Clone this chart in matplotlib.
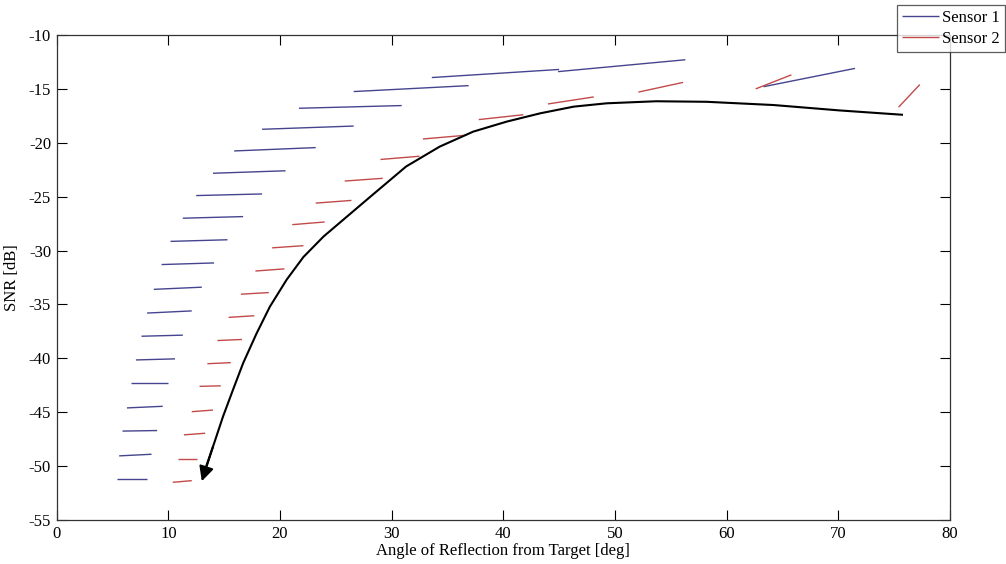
import matplotlib
matplotlib.use("Agg")
import matplotlib.pyplot as plt

plt.rcParams['font.family'] = ['Liberation Serif', 'DejaVu Serif']
plt.rcParams['axes.unicode_minus'] = False

# Sensor 1 segments: start/end angle and SNR
s1_x0 = [5.4, 5.6, 5.9, 6.3, 6.7, 7.1, 7.6, 8.1, 8.7, 9.4, 10.2, 11.3, 12.5, 14.0, 15.9, 18.4, 21.7, 26.6, 33.6, 44.9, 63.3]
s1_x1 = [8.1, 8.5, 9.0, 9.5, 10.0, 10.6, 11.3, 12.1, 13.0, 14.1, 15.3, 16.7, 18.4, 20.5, 23.2, 26.6, 30.9, 36.9, 45.0, 56.3, 71.5]
s1_y0 = [-51.2, -49.05, -46.75, -44.6, -42.3, -40.15, -37.95, -35.8, -33.6, -31.3, -29.15, -27.0, -24.9, -22.83, -20.76, -18.75, -16.8, -15.25, -13.95, -13.4, -14.8]
s1_y1 = [-51.2, -48.9, -46.7, -44.45, -42.3, -40.05, -37.85, -35.6, -33.4, -31.15, -29.0, -26.85, -24.75, -22.6, -20.45, -18.45, -16.55, -14.7, -13.2, -12.3, -13.1]

# Sensor 2 segments
s2_x0 = [10.4, 10.9, 11.4, 12.1, 12.8, 13.5, 14.4, 15.4, 16.5, 17.8, 19.3, 21.1, 23.2, 25.8, 29.0, 32.8, 37.8, 44.0, 52.1, 62.6, 75.4]
s2_x1 = [12.1, 12.6, 13.3, 14.0, 14.7, 15.6, 16.6, 17.7, 19.0, 20.4, 22.1, 24.0, 26.4, 29.2, 32.5, 36.7, 41.8, 48.1, 56.1, 65.8, 77.3]
s2_y0 = [-51.5, -49.3, -47.1, -44.95, -42.6, -40.5, -38.35, -36.2, -34.05, -31.9, -29.75, -27.6, -25.6, -23.55, -21.55, -19.65, -17.85, -16.4, -15.3, -15.0, -16.7]
s2_y1 = [-51.35, -49.3, -46.95, -44.8, -42.55, -40.4, -38.25, -36.05, -33.9, -31.7, -29.55, -27.35, -25.35, -23.3, -21.25, -19.3, -17.4, -15.75, -14.4, -13.7, -14.6]

# Trend arrow (black curve)
trend_x = [75.7, 70.1, 64.2, 58.2, 53.7, 49.25, 46.3, 43.3, 40.3, 37.3, 34.3, 31.3, 28.1, 26.0, 23.9, 22.1, 20.6, 19.1, 17.9, 16.7, 15.8, 14.9, 14.0, 13.4, 13.0]
trend_y = [-17.4, -17.0, -16.5, -16.2, -16.15, -16.34, -16.65, -17.27, -18.04, -18.97, -20.36, -22.2, -25.0, -26.85, -28.7, -30.6, -32.7, -35.2, -37.7, -40.45, -42.9, -45.4, -48.2, -50.0, -51.4]

xticks = [0, 10, 20, 30, 40, 50, 60, 70, 80]
yticks = [-55, -50, -45, -40, -35, -30, -25, -20, -15, -10]

blue = '#45458f'
red = '#c24a4a'

fig = plt.figure(figsize=(10.06, 5.64), dpi=100)
ax = fig.add_axes([0.0563, 0.078, 0.888, 0.860])

h1 = h2 = None
for a, b, c, d in zip(s1_x0, s1_x1, s1_y0, s1_y1):
    h1, = ax.plot([a, b], [c, d], color=blue, lw=1.0, solid_capstyle='butt')
for a, b, c, d in zip(s2_x0, s2_x1, s2_y0, s2_y1):
    h2, = ax.plot([a, b], [c, d], color=red, lw=1.0, solid_capstyle='butt')

ax.plot(trend_x[:-1], trend_y[:-1], color='black', lw=1.5, solid_joinstyle='round')
ax.annotate('', xy=(trend_x[-1], trend_y[-1]), xytext=(trend_x[-3], trend_y[-3]),
            arrowprops=dict(arrowstyle='-|>', color='black', lw=1.5,
                            mutation_scale=22, shrinkA=0, shrinkB=0))

ax.set_xlim(0, 80)
ax.set_ylim(-55, -10)
ax.set_xticks(xticks)
ax.set_yticks(yticks)
ax.tick_params(direction='in', top=True, right=True, length=7, width=0.8,
               labelsize=12, pad=4)
for s in ax.spines.values():
    s.set_linewidth(0.9)
    s.set_color('#333333')

ax.set_xlabel('Angle of Reflection from Target [deg]', fontsize=12, labelpad=1)
ax.set_ylabel('SNR [dB]', fontsize=12, labelpad=6)

leg = fig.legend([h1, h2], ['Sensor 1', 'Sensor 2'], loc='upper right',
                 bbox_to_anchor=(0.999, 0.992), fontsize=12, frameon=True,
                 fancybox=False, edgecolor='#333333', handlelength=2.2,
                 handletextpad=0.2, labelspacing=0.3, borderpad=0.3,
                 borderaxespad=0)
leg.get_frame().set_linewidth(0.9)
leg.set_zorder(10)

fig.savefig('out.png', dpi=100, facecolor='white')
